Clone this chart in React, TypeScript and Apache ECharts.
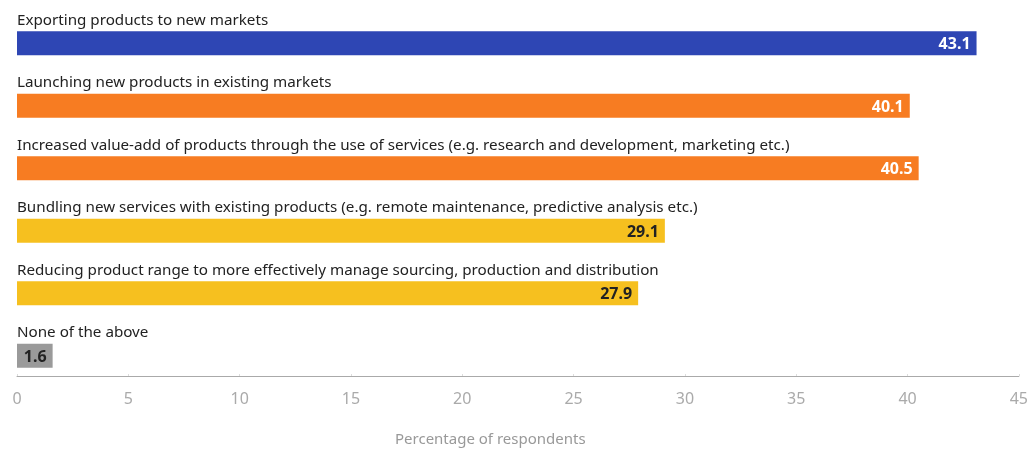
import React, { useEffect, useRef } from "react";
import * as echarts from "echarts";

const categories = [
  "Exporting products to new markets",
  "Launching new products in existing markets",
  "Increased value-add of products through the use of services (e.g. research and development, marketing etc.)",
  "Bundling new services with existing products (e.g. remote maintenance, predictive analysis etc.)",
  "Reducing product range to more effectively manage sourcing, production and distribution",
  "None of the above",
];
const values = [43.1, 40.1, 40.5, 29.1, 27.9, 1.6];
const barColors = ["#2E46B4", "#F77C22", "#F77C22", "#F6C01F", "#F6C01F", "#9A9A9A"];
const labelColors = ["#ffffff", "#ffffff", "#ffffff", "#222222", "#222222", "#222222"];
const xTicks = { min: 0, max: 45, interval: 5 };
const axisName = "Percentage of respondents";

const FONT = "'Noto Sans', sans-serif";

export default function App() {
  const ref = useRef<HTMLDivElement>(null);
  useEffect(() => {
    if (!ref.current) return;
    const chart = echarts.init(ref.current, undefined, { renderer: "svg" });
    chart.setOption({
      animation: false,
      textStyle: { fontFamily: FONT },
      grid: { left: 17, right: 11, top: 12, bottom: 62, containLabel: false },
      xAxis: {
        type: "value",
        min: xTicks.min,
        max: xTicks.max,
        interval: xTicks.interval,
        offset: -11,
        axisLine: { show: true, lineStyle: { color: "#aaaaaa", width: 1 } },
        axisTick: { show: true, inside: true, length: 2, lineStyle: { color: "#dddddd" } },
        splitLine: { show: false },
        axisLabel: { color: "#aaaaaa", fontSize: 16, margin: 14, fontFamily: FONT },
      },
      yAxis: {
        type: "category",
        inverse: true,
        data: categories,
        axisLine: { show: false },
        axisTick: { show: false },
        axisLabel: { show: false },
      },
      graphic: [
        {
          type: "text",
          left: 395,
          top: 430,
          style: { text: axisName, fill: "#999999", fontSize: 15, fontFamily: FONT },
        },
      ],
      series: [
        {
          type: "bar",
          barWidth: 24,
          z: 2,
          data: values.map((v, i) => ({
            value: v,
            itemStyle: { color: barColors[i] },
            label: { color: labelColors[i] },
          })),
          label: {
            show: true,
            position: "insideRight",
            distance: 6,
            fontSize: 16,
            fontWeight: "bold",
            fontFamily: FONT,
          },
        },
        {
          type: "bar",
          barWidth: 24,
          barGap: "-100%",
          z: 3,
          silent: true,
          data: categories.map(() => xTicks.max),
          itemStyle: { color: "rgba(0,0,0,0)" },
          label: {
            show: true,
            position: [0, -5],
            verticalAlign: "bottom",
            align: "left",
            color: "#222222",
            fontSize: 15.2,
            fontFamily: FONT,
            formatter: (p: any) => categories[p.dataIndex],
          },
        },
      ],
    });
    return () => chart.dispose();
  }, []);
  return (
    <div
      ref={ref}
      style={{ position: "fixed", left: 0, top: 0, width: 1031, height: 449 }}
    />
  );
}
